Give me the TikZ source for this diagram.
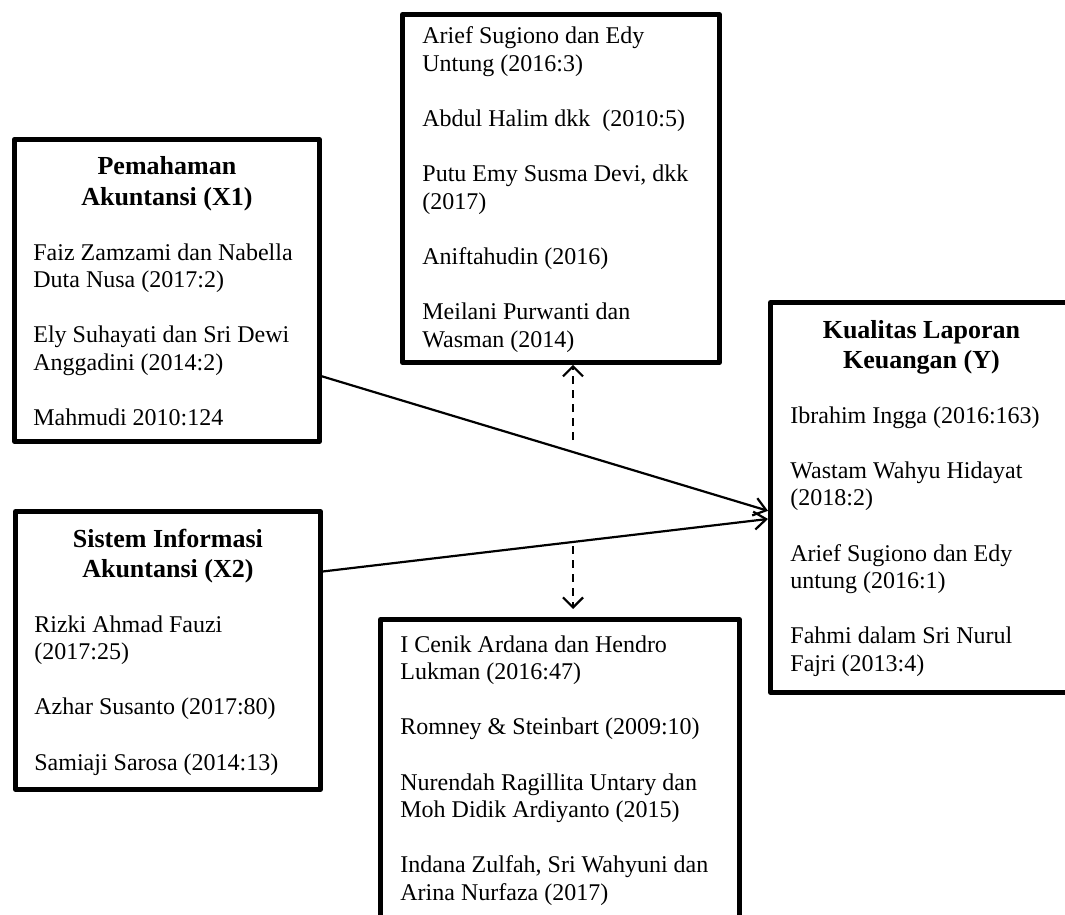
\documentclass[tikz,border=0pt]{standalone}
\usepackage{fontspec}
\setmainfont{Liberation Serif}
\usetikzlibrary{calc,arrows.meta}
\usetikzlibrary{positioning}

\tikzset{
  kotak/.style={draw, line width=2.4pt, line join=round, anchor=north west, inner sep=0pt},
  judul/.style={font=\fontsize{13pt}{15pt}\selectfont\bfseries, anchor=base, inner sep=0pt},
  isi/.style={font=\fontsize{12pt}{13.8pt}\selectfont, anchor=base west, inner sep=0pt},
  panah/.style={line width=1.1pt, -{Straight Barb[length=6pt,width=9pt,line width=1.1pt]}},
  putus/.style={line width=1.1pt, dash pattern=on 4pt off 3pt, -{Straight Barb[length=5pt,width=10pt,line width=1.1pt]}}
}
\newcommand{\jeda}{\\[13.8pt]}
\newcommand{\kiri}[1]{\begin{tabular}[t]{@{}l@{}}#1\end{tabular}}
\newcommand{\tengah}[1]{\begin{tabular}[t]{@{}c@{}}#1\end{tabular}}

\begin{document}
\begin{tikzpicture}[x=0.5pt, y=-0.5pt]
\useasboundingbox (0,0) rectangle (1065,915);
\clip (0,0) rectangle (1065,915);
% kotak-kotak
\node[kotak, minimum width=152.5pt, minimum height=151pt](x1) at (12,137){};
\node[kotak, minimum width=152.5pt, minimum height=139pt](x2) at (13,509){};
\node[kotak, minimum width=158.5pt, minimum height=174pt](atas) at (400,12){};
\node[kotak, minimum width=179.5pt, minimum height=149.5pt](bawah) at (378,617){};
\node[kotak, minimum width=151pt, minimum height=195pt](y) at (768,300){};
% isi teks
\node[judul](x1judul) at ($(x1.north)+(0,38)$){\tengah{Pemahaman\\Akuntansi (X1)}};
\node[isi](x1isi) at ($(x1.north west)+(21,123)$){\kiri{Faiz Zamzami dan Nabella\\Duta Nusa (2017:2)\jeda
Ely Suhayati dan Sri Dewi\\Anggadini (2014:2)\jeda
Mahmudi 2010:124}};
\node[judul](x2judul) at ($(x2.north)+(0,38)$){\tengah{Sistem Informasi\\Akuntansi (X2)}};
\node[isi](x2isi) at ($(x2.north west)+(21,123)$){\kiri{Rizki Ahmad Fauzi\\(2017:25)\jeda
Azhar Susanto (2017:80)\jeda
Samiaji Sarosa (2014:13)}};
\node[isi](atasisi) at ($(atas.north west)+(22,32)$){\kiri{Arief Sugiono dan Edy\\Untung (2016:3)\jeda
Abdul Halim dkk\ \ (2010:5)\jeda
Putu Emy Susma Devi, dkk\\(2017)\jeda
Aniftahudin (2016)\jeda
Meilani Purwanti dan\\Wasman (2014)}};
\node[isi](bawahisi) at ($(bawah.north west)+(22,35)$){\kiri{I Cenik Ardana dan Hendro\\Lukman (2016:47)\jeda
Romney \& Steinbart (2009:10)\jeda
Nurendah Ragillita Untary dan\\Moh Didik Ardiyanto (2015)\jeda
Indana Zulfah, Sri Wahyuni dan\\Arina Nurfaza (2017)}};
\node[judul](yjudul) at ($(y.north)+(0,38)$){\tengah{Kualitas Laporan\\Keuangan (Y)}};
\node[isi](yisi) at ($(y.north west)+(22,123)$){\kiri{Ibrahim Ingga (2016:163)\jeda
Wastam Wahyu Hidayat\\(2018:2)\jeda
Arief Sugiono dan Edy\\untung (2016:1)\jeda
Fahmi dalam Sri Nurul\\Fajri (2013:4)}};
% panah
\draw[panah] (x1.-29.1) -- (y.185.7);
\draw[panah] (x2.27.7) -- (y.188.3);
\coordinate (p1) at (573,440);
\coordinate (p2) at (573,546);
\draw[putus] (p1) -- (p1 |- atas.south);
\draw[putus, shorten >=4pt] (p2) -- (p2 |- bawah.north);
\end{tikzpicture}
\end{document}
